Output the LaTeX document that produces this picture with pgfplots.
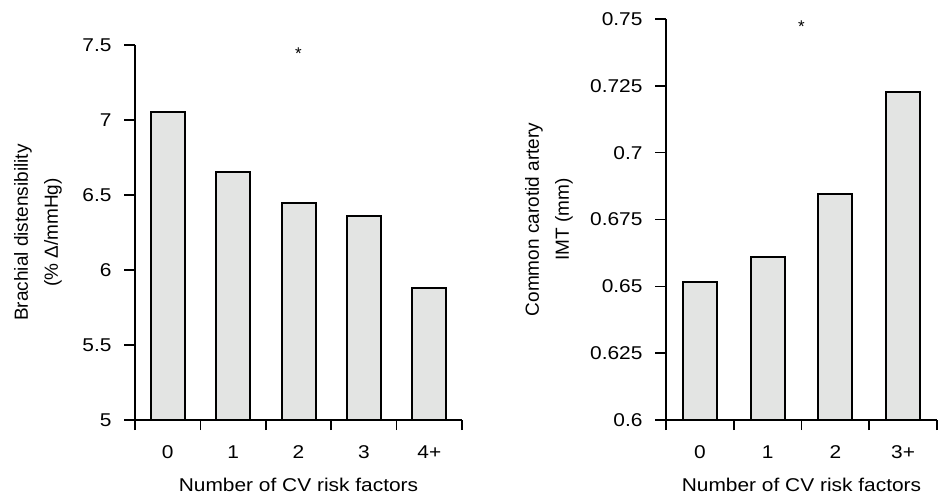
\documentclass[border=0pt]{standalone}
\usepackage{pgfplots}
\pgfplotsset{compat=1.18}
\usepackage{fontspec}
\setmainfont[FakeStretch=1.13]{Liberation Sans}
\newfontfamily\plainfont{Liberation Sans}
\usetikzlibrary{calc}
\definecolor{barfill}{HTML}{E3E4E3}
\pgfplotsset{
  mybars/.style={
    scale only axis,
    axis lines=left,
    axis line style={-, line width=2.4pt, black},
    tick align=outside,
    major tick length=11pt,
    minor tick length=10pt,
    tick style={black, line width=1.6pt},
    major x tick style={draw=none},
    xtick={0,1,2,3,4,5},
    ytick style={black, line width=1.6pt},
    font=\fontsize{18.5}{28}\selectfont,
    /pgf/number format/assume math mode=true,
    ybar,
    bar width=34pt,
    clip=true,
    xlabel style={at={(rel axis cs:0.5,0)}, anchor=center, yshift=-65pt},
    yticklabel style={xshift=-9pt},
    xticklabel style={yshift=-11pt},
  }
}
\begin{document}
\begin{tikzpicture}
\path[use as bounding box] (0,0) rectangle (942pt,498pt);
\begin{axis}[mybars,
  at={(135pt,78pt)}, anchor=south west,
  width=327pt, height=375pt,
  xmin=-0.5, xmax=4.5, ymin=5, ymax=7.5,
  minor xtick={-0.5,0.5,1.5,2.5,3.5,4.5},
  xticklabels={0,1,2,3,4+},
  ytick={5,5.5,6,6.5,7,7.5},
  yticklabels={5,5.5,6,6.5,7,7.5},
  xlabel={Number of CV risk factors},
  ylabel={Brachial distensibility\\(\% Δ/mmHg)},
  ylabel style={at={($(rel axis cs:0,0.5)+(-97pt,0)$)}, anchor=center, align=center, font=\plainfont\fontsize{19}{30}\selectfont},
]
\addplot[fill=barfill, draw=black, line width=2pt] coordinates {(0,7.05) (1,6.65) (2,6.445) (3,6.36) (4,5.88)};
\node[font=\plainfont\fontsize{17}{17}\selectfont] at (axis cs:2,7.44) {*};
\end{axis}
\begin{axis}[mybars,
  at={(666pt,78pt)}, anchor=south west,
  width=271pt, height=401pt,
  xmin=-0.5, xmax=3.5, ymin=0.6, ymax=0.75,
  minor xtick={-0.5,0.5,1.5,2.5,3.5},
  xticklabels={0,1,2,3+},
  ytick={0.6,0.625,0.65,0.675,0.7,0.725,0.75},
  yticklabels={0.6,0.625,0.65,0.675,0.7,0.725,0.75},
  xlabel={Number of CV risk factors},
  ylabel={Common carotid artery\\IMT (mm)},
  ylabel style={at={($(rel axis cs:0,0.5)+(-117pt,0)$)}, anchor=center, align=center, font=\plainfont\fontsize{19}{30}\selectfont},
]
\addplot[fill=barfill, draw=black, line width=2pt] coordinates {(0,0.6517) (1,0.661) (2,0.6844) (3,0.7227)};
\node[font=\plainfont\fontsize{17}{17}\selectfont] at (axis cs:1.5,0.747) {*};
\end{axis}
\end{tikzpicture}
\end{document}
